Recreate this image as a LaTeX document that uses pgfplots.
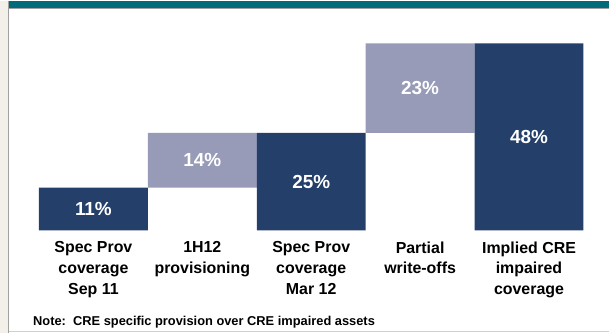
\documentclass[border=0pt]{standalone}
\usepackage{pgfplots}
\pgfplotsset{compat=1.18}
\usepackage{pgfplotstable}
\usepackage{fontspec}
\setmainfont{Liberation Sans}

\definecolor{navy}{RGB}{36,63,105}
\definecolor{lilac}{RGB}{151,155,184}
\definecolor{bandteal}{RGB}{0,107,122}
\definecolor{paper}{RGB}{243,240,233}
\definecolor{framegray}{RGB}{160,160,160}
\definecolor{footgray}{RGB}{208,208,208}

% Coverage bridge: invisible base, totals (dark) and movements (light)
\pgfplotstableread{
x base dark light
0 0    11   0
1 11   0    14
2 0    25   0
3 25   0    23
4 0    48   0
}\bridge

\pgfplotsset{
  bridgeaxis/.style={
    at={(39bp,103bp)}, anchor=south west,
    width=545bp, height=187.2bp, scale only axis,
    xmin=-0.5, xmax=4.5, ymin=0, ymax=48,
    clip=false,
  },
}

\begin{document}
\begin{tikzpicture}[x=1bp,y=1bp]
  % slide frame
  \fill[white] (0,0) rectangle (610,333);
  \fill[paper] (0,0) rectangle (8,333);
  \fill[bandteal] (9,333) rectangle (610,326);
  \draw[framegray, line width=1.2bp] (8.6,0) -- (8.6,333);
  \draw[framegray, line width=1bp] (9,325.5) -- (610,325.5);
  \draw[footgray, line width=1.2bp] (9,2) -- (610,2);

  \begin{axis}[
    bridgeaxis,
    ybar stacked, bar width=1,
    axis line style={draw=none},
    major tick length=0pt,
    ytick=\empty,
    xtick={0,1,2,3,4},
    xticklabels={
      {Spec Prov\\coverage\\Sep 11},
      {1H12\\provisioning},
      {Spec Prov\\coverage\\Mar 12},
      {Partial\\write-offs},
      {Implied CRE\\impaired\\coverage}},
    xticklabel style={
      font=\fontsize{16}{20.7}\selectfont\bfseries,
      align=center, anchor=north, inner sep=0pt, yshift=-11.2bp},
  ]
    \addplot[draw=none, fill=none] table[x=x, y=base] {\bridge};
    \addplot[draw=none, fill=navy] table[x=x, y=dark] {\bridge};
    \addplot[draw=none, fill=lilac] table[x=x, y=light] {\bridge};
  \end{axis}

  % value labels, centred in each bar
  \begin{axis}[
    bridgeaxis, hide axis,
    /pgf/number format/assume math mode=true,
  ]
    \addplot[draw=none, mark=none,
      point meta={\thisrow{dark}+\thisrow{light}},
      nodes near coords={\pgfmathprintnumber[fixed, precision=0]{\pgfplotspointmeta}\%},
      every node near coord/.style={anchor=center, text=white,
        font=\fontsize{19}{19}\selectfont\bfseries},
    ] table[x=x, y expr={\thisrow{base}+(\thisrow{dark}+\thisrow{light})/2}] {\bridge};
  \end{axis}

  \node[anchor=base west, inner sep=0pt,
        font=\fontsize{12.9}{14}\selectfont\bfseries]
    at (33,7.3) {Note:\ \ CRE specific provision over CRE impaired assets};
\end{tikzpicture}
\end{document}
